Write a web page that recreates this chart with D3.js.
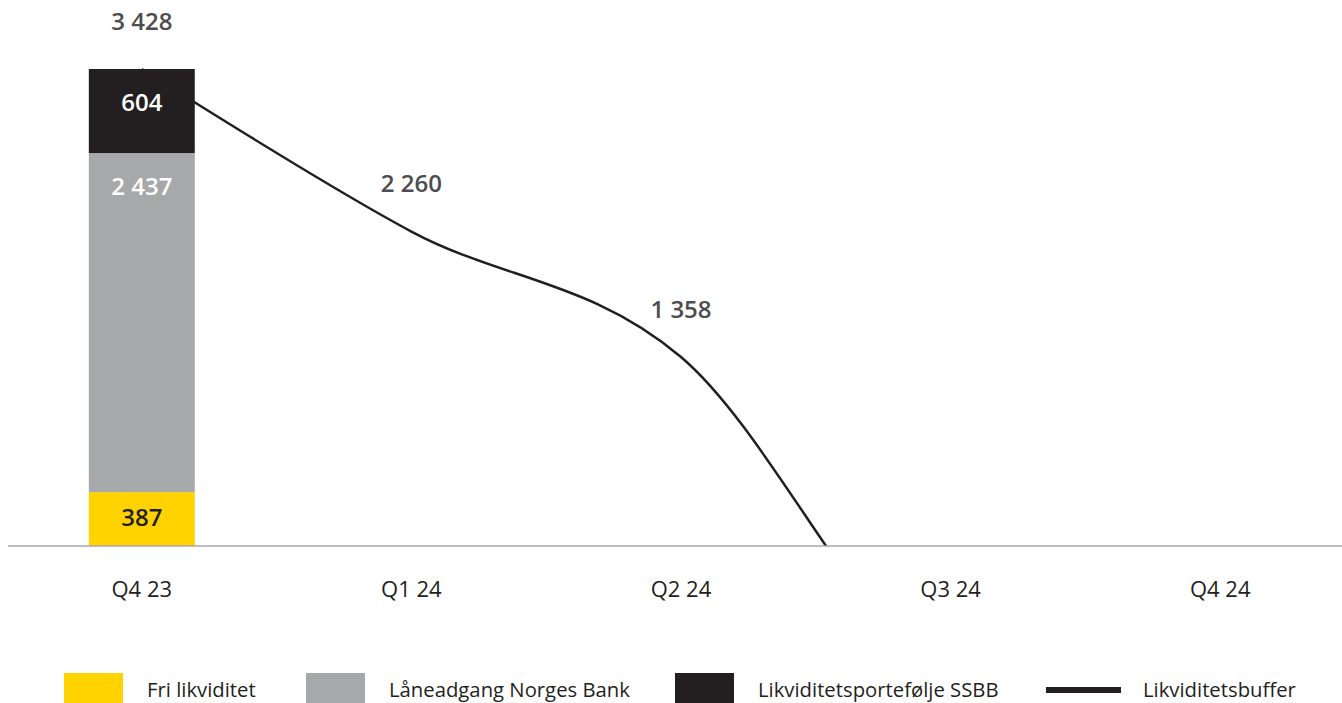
<!DOCTYPE html>
<html>
<head>
<meta charset="utf-8">
<script src="https://cdn.jsdelivr.net/npm/d3@7"></script>
<style>
  body { margin: 0; background: #fff; }
  text { font-family: "Open Sans", Lato, sans-serif; }
</style>
</head>
<body>
<div id="vis"></div>
<script>
// data
const quarters = ["Q4 23", "Q1 24", "Q2 24", "Q3 24", "Q4 24"];
const friLikviditet = [387, null, null, null, null];
const laneadgang = [2437, null, null, null, null];
const portefolje = [604, null, null, null, null];
const buffer = [3428, 2260, 1358, -1030, -1030];
const bufferLabels = ["3 428", "2 260", "1 358", "", ""];
const segLabels = [["387", "2 437", "604"]];

const seriesNames = ["Fri likviditet", "Låneadgang Norges Bank", "Likviditetsportefølje SSBB"];
const seriesColors = ["#ffd200", "#a7a8aa", "#231f20"];
const labelColors = ["#231f20", "#ffffff", "#ffffff"];

const svg = d3.select("#vis")
    .append("svg")
    .attr("width", 1342)
    .attr("height", 703);

const baseY = 546;

const x = d3.scaleBand()
    .domain(quarters)
    .range([7, 1355])
    .paddingInner(0.607)
    .paddingOuter(0.3035);

const y = d3.scaleLinear()
    .domain([0, 3428])
    .range([baseY, 69]);

// stack the bar series
const rows = quarters.map((q, i) => ({
    q: q, i: i,
    s0: friLikviditet[i] || 0,
    s1: laneadgang[i] || 0,
    s2: portefolje[i] || 0
}));
const stack = d3.stack().keys(["s0", "s1", "s2"]);
const stacked = stack(rows);

const bars = svg.append("g");
stacked.forEach((layer, k) => {
    bars.selectAll(null)
        .data(layer.filter(d => d[1] > d[0]))
        .enter()
        .append("rect")
        .attr("x", d => x(d.data.q))
        .attr("y", d => y(d[1]))
        .attr("width", x.bandwidth())
        .attr("height", d => y(d[0]) - y(d[1]))
        .attr("fill", seriesColors[k]);

    bars.selectAll(null)
        .data(layer.filter(d => d[1] > d[0]))
        .enter()
        .append("text")
        .attr("x", d => x(d.data.q) + x.bandwidth() / 2)
        .attr("y", d => {
            const h = y(d[0]) - y(d[1]);
            return y(d[1]) + Math.min(33, h / 2 - 2);
        })
        .attr("dy", "0.36em")
        .attr("text-anchor", "middle")
        .attr("font-size", 24)
        .attr("font-weight", 600)
        .attr("fill", labelColors[k])
        .text(d => segLabels[d.data.i][k]);
});

// line, clipped at the baseline
svg.append("clipPath")
    .attr("id", "clip")
    .append("rect")
    .attr("x", 0).attr("y", 0)
    .attr("width", 1342).attr("height", baseY);

const line = d3.line()
    .x((d, i) => x(quarters[i]) + x.bandwidth() / 2)
    .y(d => y(d))
    .curve(d3.curveCatmullRom.alpha(0));

// draw line under the bar
svg.insert("path", "g")
    .attr("clip-path", "url(#clip)")
    .attr("d", line(buffer))
    .attr("fill", "none")
    .attr("stroke", "#231f20")
    .attr("stroke-width", 2.5);

svg.append("g")
    .selectAll("text")
    .data(buffer)
    .enter()
    .append("text")
    .attr("x", (d, i) => x(quarters[i]) + x.bandwidth() / 2)
    .attr("y", d => y(d) - 48)
    .attr("dy", "0.36em")
    .attr("text-anchor", "middle")
    .attr("font-size", 24)
    .attr("font-weight", 600)
    .attr("fill", "#4d4d4f")
    .text((d, i) => bufferLabels[i]);

// x axis
svg.append("line")
    .attr("x1", 8).attr("x2", 1342)
    .attr("y1", baseY).attr("y2", baseY)
    .attr("stroke", "#a7a8aa")
    .attr("stroke-width", 1.5);

svg.append("g")
    .selectAll("text")
    .data(quarters)
    .enter()
    .append("text")
    .attr("x", d => x(d) + x.bandwidth() / 2)
    .attr("y", 589)
    .attr("dy", "0.36em")
    .attr("text-anchor", "middle")
    .attr("font-size", 22)
    .attr("fill", "#231f20")
    .text(d => d);

// legend
const legend = svg.append("g");
const legX = [64, 306, 675];
seriesNames.forEach((name, k) => {
    legend.append("rect")
        .attr("x", legX[k]).attr("y", 673)
        .attr("width", 59).attr("height", 30)
        .attr("fill", seriesColors[k]);
    legend.append("text")
        .attr("x", legX[k] + 83).attr("y", 690)
        .attr("dy", "0.36em")
        .attr("font-size", 20.3)
        .attr("fill", "#231f20")
        .text(name);
});
legend.append("rect")
    .attr("x", 1046).attr("y", 687)
    .attr("width", 75).attr("height", 6)
    .attr("fill", "#231f20");
legend.append("text")
    .attr("x", 1143).attr("y", 690)
    .attr("dy", "0.36em")
    .attr("font-size", 20.3)
    .attr("fill", "#231f20")
    .text("Likviditetsbuffer");
</script>
</body>
</html>
